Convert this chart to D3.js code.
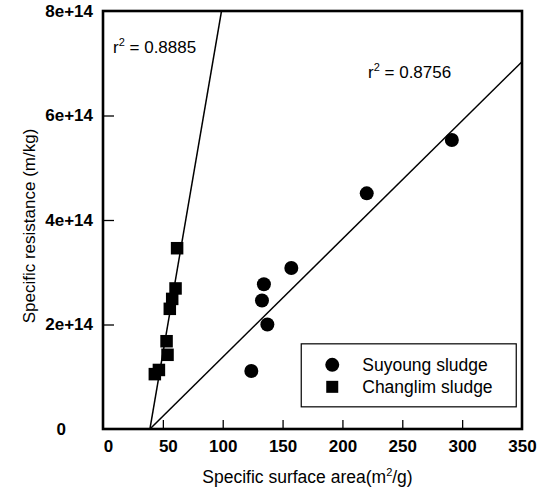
<!DOCTYPE html>
<html>
<head>
<meta charset="utf-8">
<script src="https://cdn.jsdelivr.net/npm/d3@7"></script>
<style>
body { margin: 0; background: #fff; }
text { font-family: "Liberation Sans", Arial, sans-serif; fill: #000; }
</style>
</head>
<body>
<script>
//DATA
const suyoungArea = [123.9, 132.8, 134.4, 137.3, 157.3, 220.3, 291.4];
const suyoungRes = [1.11e14, 2.46e14, 2.77e14, 2.0e14, 3.08e14, 4.51e14, 5.53e14];
const changlimArea = [61.9, 60.6, 57.8, 55.8, 53.1, 53.9, 46.7, 43.3];
const changlimRes = [3.46e14, 2.69e14, 2.49e14, 2.30e14, 1.68e14, 1.42e14, 1.13e14, 1.05e14];
const fitSlope = [1.338e13, 2.262e12];
const fitIntercept = [-5.245e14, -8.867e13];
const fitLabels = ["0.8885", "0.8756"];
const xTicks = [0, 50, 100, 150, 200, 250, 300, 350];
const yTicks = [0, 2e14, 4e14, 6e14, 8e14];
const yTickLabels = ["0", "2e+14", "4e+14", "6e+14", "8e+14"];

//USEFUL VARIABLES
const svgwidth = 551;
const svgheight = 492;
const margin = {top: 11, right: 29, bottom: 63, left: 103};
const graphwidth = svgwidth - margin.left - margin.right;
const graphheight = svgheight - margin.top - margin.bottom;

const svg = d3.select("body").append("svg")
    .attr("width", svgwidth)
    .attr("height", svgheight);

const graph = svg.append("g")
    .attr("transform", `translate(${margin.left}, ${margin.top})`);

// SCALES
const X = d3.scaleLinear().domain([0, 350]).range([0, graphwidth]);
const Y = d3.scaleLinear().domain([0, 8e14]).range([graphheight, 0]);

// CLIP
svg.append("clipPath").attr("id", "plotclip")
    .append("rect").attr("width", graphwidth).attr("height", graphheight);

// AXES (ticks pointing inward)
const xAxis = graph.append("g")
    .attr("transform", `translate(0, ${graphheight})`)
    .call(d3.axisBottom(X).tickValues(xTicks).tickSize(-9).tickPadding(11).tickFormat(d3.format("d")));
const yAxis = graph.append("g")
    .call(d3.axisLeft(Y).tickValues(yTicks).tickSize(-11).tickPadding(10)
        .tickFormat((d, i) => yTickLabels[i]));

[xAxis, yAxis].forEach(a => {
    a.select(".domain").remove();
    a.selectAll("line").attr("stroke", "#000").attr("stroke-width", 1.3);
    a.selectAll("text")
        .style("font-size", "17px")
        .style("font-weight", "bold")
        .attr("fill", "#000");
});
xAxis.selectAll(".tick").filter(d => d === 0 || d === 350).select("line").remove();
yAxis.selectAll(".tick").filter(d => d === 0 || d === 8e14).select("line").remove();
yAxis.selectAll(".tick").filter(d => d === 0).select("text").attr("dx", -27);
xAxis.selectAll(".tick").filter(d => d === 0 || d === 50).select("text").attr("dx", 5);

// FRAME
graph.append("rect")
    .attr("width", graphwidth)
    .attr("height", graphheight)
    .attr("fill", "none")
    .attr("stroke", "#000")
    .attr("stroke-width", 2.6);

// FIT LINES
const lines = fitSlope.map((s, i) => {
    const x0 = -fitIntercept[i] / s;
    const x1 = Math.min(350, (8e14 - fitIntercept[i]) / s);
    return [[x0, 0], [x1, s * x1 + fitIntercept[i]]];
});
graph.append("g").attr("clip-path", "url(#plotclip)")
    .selectAll("path").data(lines).enter()
    .append("path")
    .attr("d", d3.line().x(d => X(d[0])).y(d => Y(d[1])))
    .attr("fill", "none")
    .attr("stroke", "#000")
    .attr("stroke-width", 1.5);

// POINTS
const suyoung = suyoungArea.map((d, i) => ({x: d, y: suyoungRes[i]}));
const changlim = changlimArea.map((d, i) => ({x: d, y: changlimRes[i]}));

graph.selectAll("circle.su").data(suyoung).enter()
    .append("circle")
    .attr("cx", d => X(d.x))
    .attr("cy", d => Y(d.y))
    .attr("r", 7)
    .attr("fill", "#000");

const sq = 12.5;
graph.selectAll("rect.ch").data(changlim).enter()
    .append("rect")
    .attr("x", d => X(d.x) - sq / 2)
    .attr("y", d => Y(d.y) - sq / 2)
    .attr("width", sq)
    .attr("height", sq)
    .attr("fill", "#000");

// R SQUARED LABELS
const r2pos = [[10, 42], [265, 67]];
fitLabels.forEach((lab, i) => {
    const t = graph.append("text")
        .attr("x", r2pos[i][0])
        .attr("y", r2pos[i][1])
        .style("font-size", "17px");
    t.append("tspan").text("r");
    t.append("tspan").attr("dy", -7).style("font-size", "11px").text("2");
    t.append("tspan").attr("dy", 7).text(" = " + lab);
});

// LEGEND
const legend = graph.append("g").attr("transform", `translate(${X(165.6)}, ${Y(1.63e14)})`);
legend.append("rect")
    .attr("width", 215)
    .attr("height", 63)
    .attr("fill", "#fff")
    .attr("stroke", "#000")
    .attr("stroke-width", 1.2);
legend.append("circle").attr("cx", 31).attr("cy", 21).attr("r", 7).attr("fill", "#000");
legend.append("rect").attr("x", 25).attr("y", 37).attr("width", 12).attr("height", 12).attr("fill", "#000");
legend.append("text").attr("x", 61).attr("y", 27).style("font-size", "17.5px").text("Suyoung sludge");
legend.append("text").attr("x", 61).attr("y", 49).style("font-size", "17.5px").text("Changlim sludge");

// AXIS TITLES
const xt = svg.append("text")
    .attr("x", margin.left + graphwidth / 2 - 5)
    .attr("y", 483)
    .attr("text-anchor", "middle")
    .style("font-size", "17.5px");
xt.append("tspan").text("Specific surface area(m");
xt.append("tspan").attr("dy", -7).style("font-size", "11px").text("2");
xt.append("tspan").attr("dy", 7).text("/g)");

svg.append("text")
    .attr("transform", `translate(35, 226) rotate(-90)`)
    .attr("text-anchor", "middle")
    .style("font-size", "17px")
    .text("Specific resistance (m/kg)");
</script>
</body>
</html>
